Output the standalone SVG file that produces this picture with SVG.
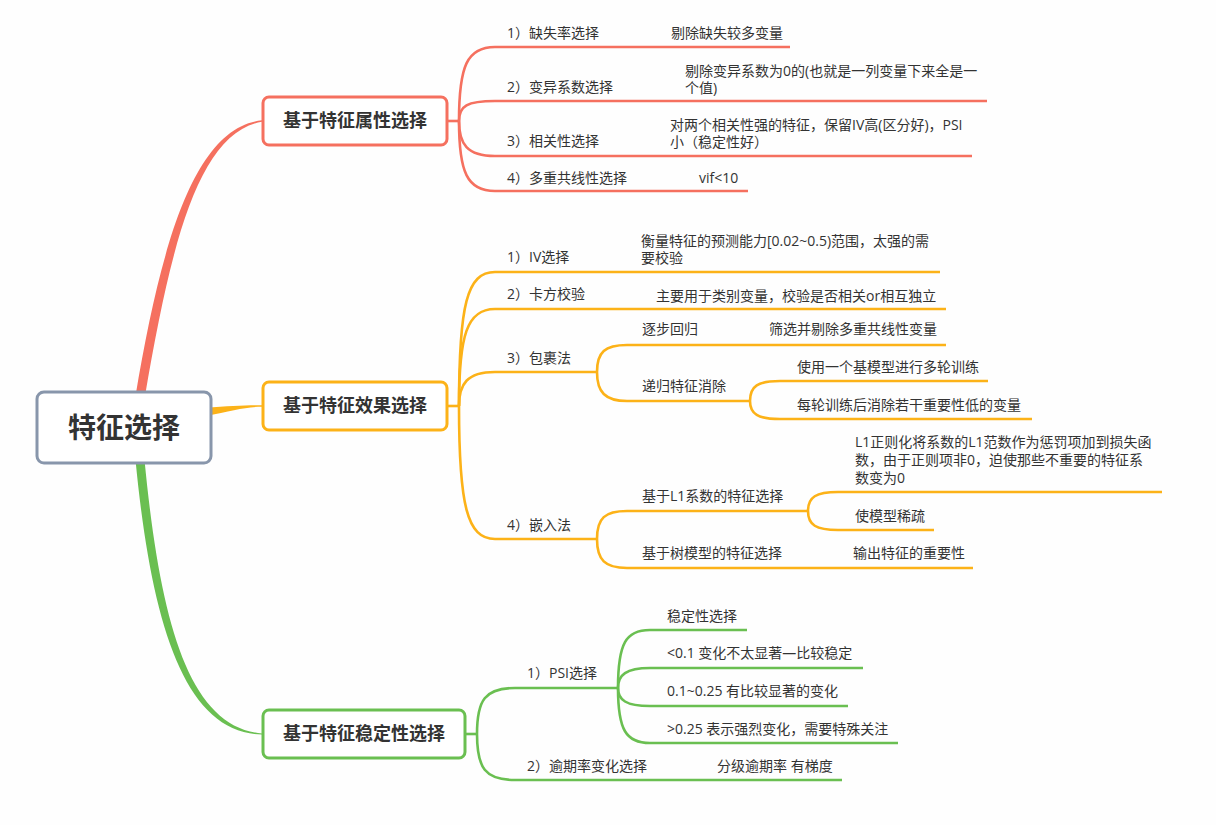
<svg xmlns="http://www.w3.org/2000/svg" width="1216" height="825" viewBox="0 0 1216 825">
<style>
.t{font-family:"Open Sans","Noto Sans CJK SC",sans-serif;font-size:14px;fill:#333}
.n{font-family:"Noto Sans CJK SC",sans-serif;font-size:18px;font-weight:700;fill:#333;text-anchor:middle}
.r{fill:none;stroke:#F5705F;stroke-width:2.6}
.y{fill:none;stroke:#FCB218;stroke-width:2.6}
.g{fill:none;stroke:#6ABF51;stroke-width:2.6}
.box{fill:#fff;stroke-width:3}
</style>
<rect width="1216" height="825" fill="#fefefe"/>
<g id="connectors">
<path d="M135.5,396 C160,250 193,127 262,120.3 L262,121.7 C197,133 170,250 145,396 Z" fill="#F5705F"/>
<path d="M205,408 C230,406 245,405.3 262,405.3 L262,406.7 C245,406.7 232,411 205,416 Z" fill="#FCB218"/>
<path d="M135.5,460 C151,620 183,733 262,734.5 L262,733.5 C188,727 160,620 144.5,460 Z" fill="#6ABF51"/>
<!-- red -->
<path class="r" d="M447,121 H459"/>
<path class="r" d="M459,121 C459,66 467,47 495,47 H790"/>
<path class="r" d="M459,121 C459,106 467,101 495,101 H987"/>
<path class="r" d="M459,121 C459,144 467,156 495,156 H972"/>
<path class="r" d="M459,121 C459,172 467,191 495,191 H748"/>
<!-- yellow -->
<path class="y" d="M447,406 H459"/>
<path class="y" d="M459,406 C459,305 467,272 495,272 H940"/>
<path class="y" d="M459,406 C459,335 467,309 495,309 H946"/>
<path class="y" d="M459,406 C459,384 467,372 495,372 H597"/>
<path class="y" d="M459,406 C459,505 467,539 495,539 H597"/>
<path class="y" d="M597,372 C597,352 605,345 627,345 H946"/>
<path class="y" d="M597,372 C597,392 605,401 627,401 H750"/>
<path class="y" d="M750,401 C750,386 758,381 780,381 H988"/>
<path class="y" d="M750,401 C750,414 758,419 780,419 H1032"/>
<path class="y" d="M597,539 C597,518 605,511 627,511 H808"/>
<path class="y" d="M597,539 C597,560 605,568 627,568 H973"/>
<path class="y" d="M808,511 C808,497 816,492 838,492 H1162"/>
<path class="y" d="M808,511 C808,525 816,530 838,530 H934"/>
<!-- green -->
<path class="g" d="M465,734 H477"/>
<path class="g" d="M477,734 C477,700 485,688 515,688 H618"/>
<path class="g" d="M477,734 C477,768 485,780 515,780 H842"/>
<path class="g" d="M618,688 C618,643 626,630 650,630 H747"/>
<path class="g" d="M618,688 C618,675 626,668 650,668 H863"/>
<path class="g" d="M618,688 C618,700 626,706 650,706 H848"/>
<path class="g" d="M618,688 C618,730 626,743 650,743 H898"/>
</g>
<g id="root">
<rect class="box" x="37" y="392" width="174" height="71" rx="7" stroke="#8896AB"/>
<text x="124" y="438" class="n" style="font-size:28px">特征选择</text>
</g>
<g id="node-attr">
<rect class="box" x="263" y="97" width="184" height="48" rx="6" stroke="#F5705F"/>
<text x="355" y="127" class="n">基于特征属性选择</text>
</g>
<g id="node-effect">
<rect class="box" x="263" y="382" width="184" height="48" rx="6" stroke="#FCB218"/>
<text x="355" y="412" class="n">基于特征效果选择</text>
</g>
<g id="node-stab">
<rect class="box" x="263" y="710" width="202" height="48" rx="6" stroke="#6ABF51"/>
<text x="364" y="740" class="n">基于特征稳定性选择</text>
</g>
<g id="attr-items">
<text class="t" x="507" y="38">1）缺失率选择</text>
<text class="t" x="671" y="38">剔除缺失较多变量</text>
<text class="t" x="507" y="92">2）变异系数选择</text>
<text class="t" x="685" y="76">剔除变异系数为0的(也就是一列变量下来全是一</text>
<text class="t" x="685" y="93">个值)</text>
<text class="t" x="507" y="146">3）相关性选择</text>
<text class="t" x="670" y="130">对两个相关性强的特征，保留IV高(区分好)，PSI</text>
<text class="t" x="670" y="147">小（稳定性好）</text>
<text class="t" x="507" y="183">4）多重共线性选择</text>
<text class="t" x="699" y="183">vif&lt;10</text>
</g>
<g id="effect-items">
<text class="t" x="507" y="262">1）IV选择</text>
<text class="t" x="641" y="246">衡量特征的预测能力[0.02~0.5)范围，太强的需</text>
<text class="t" x="641" y="263">要校验</text>
<text class="t" x="507" y="299">2）卡方校验</text>
<text class="t" x="656" y="301">主要用于类别变量，校验是否相关or相互独立</text>
<text class="t" x="507" y="363">3）包裹法</text>
<text class="t" x="642" y="334">逐步回归</text>
<text class="t" x="769" y="334">筛选并剔除多重共线性变量</text>
<text class="t" x="642" y="391">递归特征消除</text>
<text class="t" x="797" y="372">使用一个基模型进行多轮训练</text>
<text class="t" x="797" y="410">每轮训练后消除若干重要性低的变量</text>
<text class="t" x="507" y="530">4）嵌入法</text>
<text class="t" x="642" y="501">基于L1系数的特征选择</text>
<text class="t" x="855" y="447">L1正则化将系数的L1范数作为惩罚项加到损失函</text>
<text class="t" x="855" y="465">数，由于正则项非0，迫使那些不重要的特征系</text>
<text class="t" x="855" y="483">数变为0</text>
<text class="t" x="855" y="521">使模型稀疏</text>
<text class="t" x="642" y="558">基于树模型的特征选择</text>
<text class="t" x="853" y="558">输出特征的重要性</text>
</g>
<g id="stab-items">
<text class="t" x="527" y="678">1）PSI选择</text>
<text class="t" x="667" y="621">稳定性选择</text>
<text class="t" x="667" y="658">&lt;0.1 变化不太显著—比较稳定</text>
<text class="t" x="667" y="696">0.1~0.25 有比较显著的变化</text>
<text class="t" x="667" y="734">&gt;0.25 表示强烈变化，需要特殊关注</text>
<text class="t" x="527" y="771">2）逾期率变化选择</text>
<text class="t" x="717" y="771">分级逾期率 有梯度</text>
</g>
</svg>
